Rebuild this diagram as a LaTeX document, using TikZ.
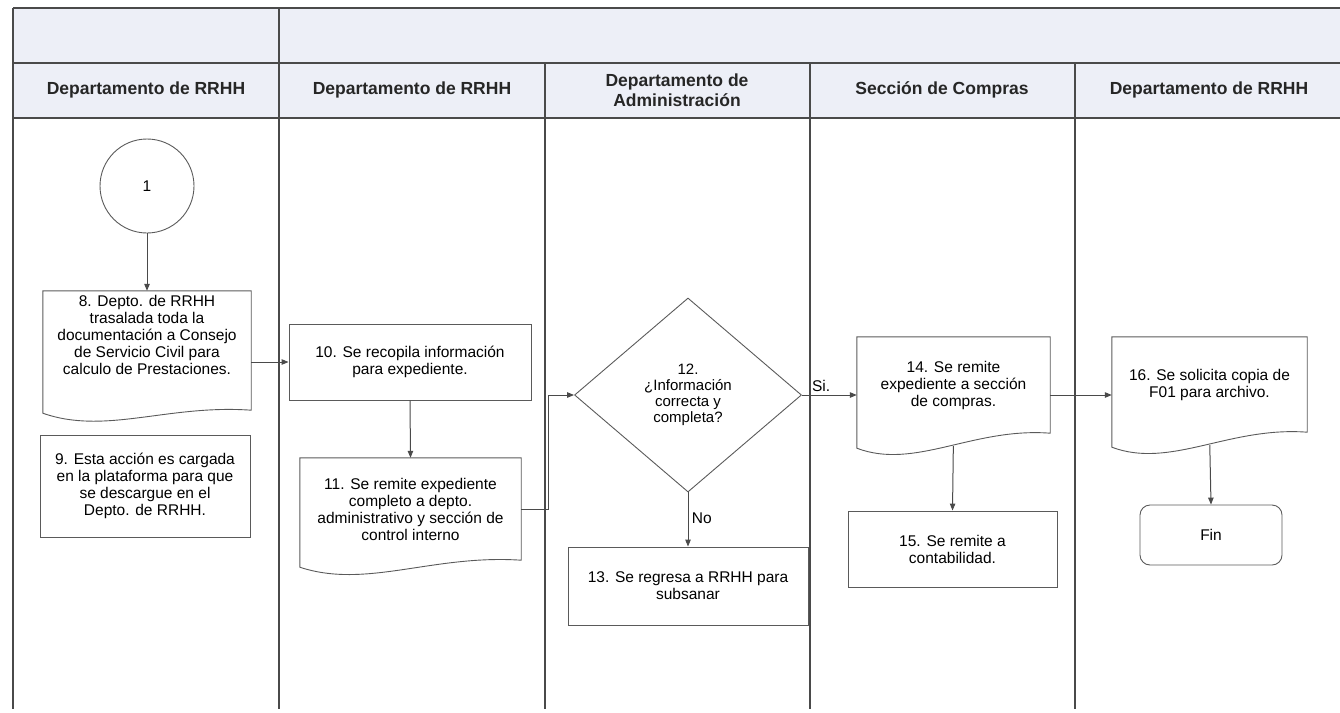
\documentclass[tikz,border=0pt]{standalone}
\usepackage{fontspec}
\setmainfont{Liberation Sans}
\usetikzlibrary{arrows.meta, calc, shapes.geometric}
\definecolor{laneline}{HTML}{4A4A4A}
\definecolor{headfill}{HTML}{EDEFF7}
\definecolor{boxline}{HTML}{5A5A5A}
\newcommand{\stepfont}{\fontsize{15.5}{17}\selectfont}
% #2: drop of the left end, #3: drop of the right end (below the text area)
\newcommand{\docoutline}[3]{%
  \draw[boxborder] (#1.north west) -- (#1.north east) -- ($(#1.south east)+(0,#3)$)
    .. controls ($(#1.south west)!0.6!(#1.south east)+(0,#3-6)$)
    and ($(#1.south west)!0.3!(#1.south east)+(0,#2+22)$) ..
    ($(#1.south west)+(0,#2)$) -- cycle;%
}

\begin{document}
\begin{tikzpicture}[x=1pt, y=-1pt, >={Triangle[length=7pt,width=5.5pt]},
    lane/.style={draw=laneline, line width=1.3pt},
    lanetitle/.style={font=\bfseries\fontsize{17.5}{20}\selectfont, align=center, text=black!85},
    boxborder/.style={draw=boxline, line width=0.9pt},
    stepbox/.style={boxborder, fill=white, align=center, inner sep=2pt, font=\stepfont},
    docbox/.style={align=center, inner sep=2pt, font=\stepfont},
    flow/.style={->, draw=laneline, line width=1pt}]
  \useasboundingbox (0,0) rectangle (1340,712);
  % swimlane frame
  \fill[headfill] (13,8) rectangle (1340,118);
  \draw[lane] (13,8) -- (1340,8);
  \draw[lane] (13,63) -- (1340,63);
  \draw[lane] (13,118) -- (1340,118);
  \draw[lane] (13,8) -- (13,709);
  \draw[lane] (279,8) -- (279,709);
  \foreach \x in {545,810,1075}
    \draw[lane] (\x,63) -- (\x,709);
  \node[lanetitle] (t1) at (146,90) {Departamento de RRHH};
  \node[lanetitle] (t2) at (412,90) {Departamento de RRHH};
  \node[lanetitle] (t3) at (677,90) {Departamento de\\Administración};
  \node[lanetitle] (t4) at (942,90) {Sección de Compras};
  \node[lanetitle] (t5) at (1209,90) {Departamento de RRHH};
  % steps
  \node[circle, boxborder, minimum size=94pt, font=\stepfont] (c1) at (147,186) {1};
  \node[docbox, minimum width=208pt, minimum height=88pt] (d8) at (147,335)
    {8. Depto. de RRHH\\trasalada toda la\\documentación a Consejo\\de Servicio Civil para\\calculo de Prestaciones.};
  \docoutline{d8}{34}{31}
  \node[stepbox, minimum width=210pt, minimum height=102pt] (b9) at (145,486)
    {9. Esta acción es cargada\\en la plataforma para que\\se descargue en el\\Depto. de RRHH.};
  \node[stepbox, minimum width=242pt, minimum height=76pt] (b10) at (410,362)
    {10. Se recopila información\\para expediente.};
  \node[docbox, minimum width=221pt, minimum height=102pt] (d11) at (410.5,509)
    {11. Se remite expediente\\completo a depto.\\administrativo y sección de\\control interno};
  \docoutline{d11}{7}{0}
  \node[diamond, boxborder, minimum width=227pt, minimum height=194pt, inner sep=0pt,
    align=center, font=\fontsize{15}{16}\selectfont] (q12) at (688,395)
    {12.\\¿Información\\correcta y\\completa?};
  \node[stepbox, minimum width=240pt, minimum height=78pt] (b13) at (688,586)
    {13. Se regresa a RRHH para\\subsanar};
  \node[docbox, minimum width=193pt, minimum height=96pt] (d14) at (953.5,385)
    {14. Se remite\\expediente a sección\\de compras.};
  \docoutline{d14}{15}{0}
  \node[stepbox, minimum width=209pt, minimum height=76pt] (b15) at (952.5,549)
    {15. Se remite a\\contabilidad.};
  \node[docbox, minimum width=195pt, minimum height=95pt] (d16) at (1209.5,384.5)
    {16. Se solicita copia de\\F01 para archivo.};
  \docoutline{d16}{15}{0}
  \node[stepbox, rounded corners=10pt, minimum width=142pt, minimum height=60pt] (fin) at (1211,535) {Fin};
  % connectors
  \draw[flow] (c1.south) -- (d8.north);
  \draw[flow] (b10.west -| d8.east) -- (b10.west);
  \draw[flow] (b10.south) -- (d11.north);
  \draw[flow] (d11.east) -- ++(27,0) |- (q12.west);
  \draw[flow] (q12.east) -- node[above, pos=0.35, font=\stepfont] {Si.} (q12.east -| d14.west);
  \draw[flow] (q12.south) -- node[right, pos=0.47, font=\stepfont] {No} (b13.north);
  \draw[flow, shorten <=13pt] (d14.south) -- (b15.north);
  \draw[flow] (q12.east -| d14.east) -- (q12.east -| d16.west);
  \draw[flow, shorten <=13pt] (d16.south) -- (fin.north);
\end{tikzpicture}
\end{document}
